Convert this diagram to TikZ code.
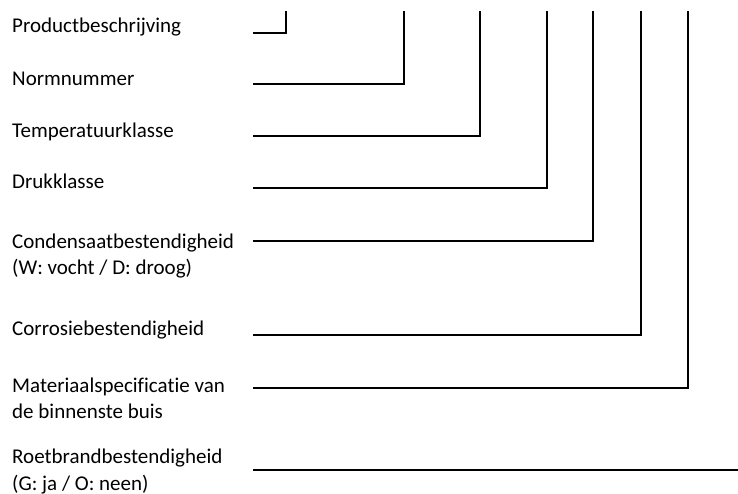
\documentclass[tikz,border=0pt]{standalone}
\usepackage{fontspec}
\setmainfont{Carlito}[Ligatures=NoCommon]
\begin{document}
\begin{tikzpicture}[x=1pt,y=-1pt,
  lbl/.style={anchor=base west,inner sep=0pt,align=left,
    font=\fontsize{21}{26.5}\selectfont},
  lead/.style={line width=2pt,line cap=rect,line join=miter}]
\useasboundingbox (0,0) rectangle (738,494);

% labels (two-line labels are placed by the baseline of their last line)
\node[lbl] (t1) at (12,33) {Productbeschrijving};
\node[lbl] (t2) at (12,85.5) {Normnummer};
\node[lbl] (t3) at (12,137.5) {Temperatuurklasse};
\node[lbl] (t4) at (12,189) {Drukklasse};
\node[lbl] (t5) at (12,274.5) {Condensaatbestendigheid\\(W: vocht / D: droog)};
\node[lbl] (t6) at (12,335) {Corrosiebestendigheid};
\node[lbl] (t7) at (12,418.5) {Materiaalspecificatie van\\de binnenste buis};
\node[lbl] (t8) at (12,490) {Roetbrandbestendigheid\\(G: ja / O: neen)};

% start points of the leaders
\coordinate (s1) at (253.5,33);
\coordinate (s2) at (253.5,84);
\coordinate (s3) at (253.5,136);
\coordinate (s4) at (253.5,188);
\coordinate (s5) at (253.5,240.7);
\coordinate (s6) at (253.5,335);
\coordinate (s7) at (253.5,387.7);
\coordinate (s8) at (253.5,469.5);

% corners and top ends
\coordinate (c1) at (285.5,33);  \coordinate (e1) at (285.5,12);
\coordinate (c2) at (404,84);    \coordinate (e2) at (404,12);
\coordinate (c3) at (480,136);   \coordinate (e3) at (480,12);
\coordinate (c4) at (547,188);   \coordinate (e4) at (547,12);
\coordinate (c5) at (593,240.7); \coordinate (e5) at (593,12);
\coordinate (c6) at (641,335);   \coordinate (e6) at (641,12);
\coordinate (c7) at (688,387.7); \coordinate (e7) at (688,12);
\coordinate (e8) at (737,469.5);

\draw[lead] (s1) -- (c1) -- (e1);
\draw[lead] (s2) -- (c2) -- (e2);
\draw[lead] (s3) -- (c3) -- (e3);
\draw[lead] (s4) -- (c4) -- (e4);
\draw[lead] (s5) -- (c5) -- (e5);
\draw[lead] (s6) -- (c6) -- (e6);
\draw[lead] (s7) -- (c7) -- (e7);
\draw[lead] (s8) -- (e8);
\end{tikzpicture}
\end{document}
